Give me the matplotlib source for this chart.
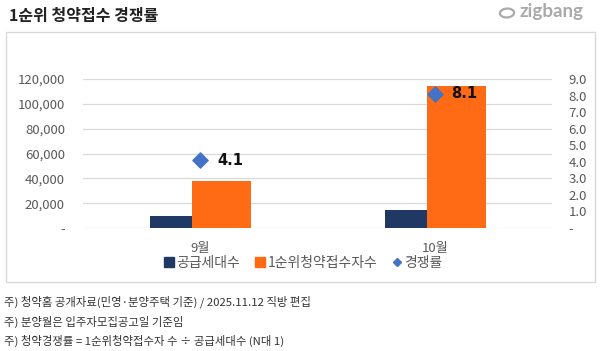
import numpy as np
import matplotlib
matplotlib.use('Agg')
import matplotlib.pyplot as plt
from matplotlib.lines import Line2D
from matplotlib.patches import Rectangle, Ellipse
from matplotlib.ticker import FuncFormatter

plt.rcParams['font.family'] = ['Noto Sans CJK KR', 'DejaVu Sans']

months = ['9월', '10월']
supply = [9300, 14100]          # 공급세대수
applicants = [38100, 114300]    # 1순위청약접수자수
rate = [4.1, 8.1]               # 경쟁률

title = '1순위 청약접수 경쟁률'
notes = [
    '주) 청약홈 공개자료(민영·분양주택 기준) / 2025.11.12 직방 편집',
    '주) 분양월은 입주자모집공고일 기준임',
    '주) 청약경쟁률 = 1순위청약접수자 수 ÷ 공급세대수 (N대 1)',
]

NAVY = '#1F3864'
ORANGE = '#FF6A14'
BLUE = '#4472C4'
GRAY = '#595959'
GRID = '#D9D9D9'

W, H = 600, 351
fig = plt.figure(figsize=(W / 100, H / 100), dpi=100)

def fx(px):
    return px / W

def fy(py):
    return 1 - py / H

# outer box
fig.patches.append(Rectangle((fx(6), fy(282)), fx(589), (282 - 32) / H,
                             transform=fig.transFigure, fill=False,
                             edgecolor=GRID, linewidth=1.0))

fig.text(fx(9), fy(16), title, fontsize=11.5, fontweight='bold',
         color='#222222', va='center', ha='left')

# zigbang logo
fig.patches.append(Ellipse((fx(507), fy(13)), fx(14), 9 / H, angle=-20,
                           transform=fig.transFigure, fill=False,
                           edgecolor='#AAAAAA', linewidth=1.6))
fig.text(fx(519), fy(12), 'zigbang', fontsize=13.5, color='#AAAAAA',
         va='center', ha='left', family='Lato', fontweight='bold')

ax = fig.add_axes([fx(83), fy(228), fx(469), (228 - 79) / H])
x = np.arange(len(months))
ax.bar(x - 0.213, supply, width=0.18, align='edge', color=NAVY, zorder=2)
ax.bar(x - 0.034, applicants, width=0.252, align='edge', color=ORANGE, zorder=3)
ax.set_xlim(-0.5, 1.5)
ax.set_ylim(0, 120000)
ax.set_yticks(np.arange(0, 120001, 20000))
ax.yaxis.set_major_formatter(FuncFormatter(lambda v, p: '-' if v == 0 else f'{v:,.0f}'))
ax.grid(axis='y', color=GRID, linewidth=0.9, zorder=0)
ax.set_axisbelow(True)
for s in ax.spines.values():
    s.set_visible(False)
ax.set_xticks(x)
ax.set_xticklabels(months)
ax.tick_params(axis='x', length=0, pad=10, labelsize=9.5, colors=GRAY)
ax.tick_params(axis='y', length=0, pad=13, labelsize=9.5, colors=GRAY)

ax2 = ax.twinx()
ax2.set_ylim(0, 9)
ax2.set_yticks(np.arange(0, 10, 1))
ax2.yaxis.set_major_formatter(FuncFormatter(lambda v, p: '-' if v == 0 else f'{v:.1f}'))
ax2.tick_params(axis='y', length=0, pad=12, labelsize=9.5, colors=GRAY)
for s in ax2.spines.values():
    s.set_visible(False)
ax2.scatter(x, rate, marker='D', s=60, color=BLUE, zorder=5)
for xi, r in zip(x, rate):
    ax2.annotate(f'{r:.1f}', (xi, r), xytext=(12, 0), textcoords='offset points',
                 fontsize=10.5, fontweight='bold', color='#111111', va='center', ha='left',
                 family='DejaVu Sans')

handles = [
    Line2D([], [], marker='s', linestyle='none', color=NAVY, markersize=6.5),
    Line2D([], [], marker='s', linestyle='none', color=ORANGE, markersize=6.5),
    Line2D([], [], marker='D', linestyle='none', color=BLUE, markersize=4.5),
]
fig.legend(handles, ['공급세대수', '1순위청약접수자수', '경쟁률'],
           loc='center', bbox_to_anchor=(fx(303), fy(263)), ncol=3, frameon=False,
           fontsize=10, labelcolor=GRAY, handlelength=0.8, handletextpad=0.15,
           columnspacing=1.0, borderpad=0)

for i, n in enumerate(notes):
    fig.text(fx(4), fy(302 + 19.5 * i), n, fontsize=8.2, color='#333333',
             va='center', ha='left')

fig.savefig('out.png', dpi=100)
